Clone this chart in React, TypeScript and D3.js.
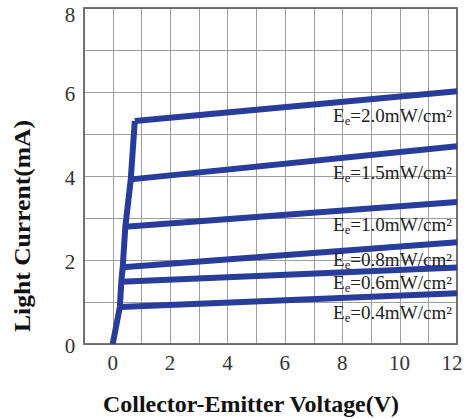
import React from "react";
import * as d3 from "d3";

const W = 464;
const H = 419;

// Irradiance series (mW/cm²)
const irradiance = ["2.0", "1.5", "1.0", "0.8", "0.6", "0.4"];
// Knee point (saturation edge) for each series: voltage, current
const kneeVoltage = [0.77, 0.63, 0.44, 0.35, 0.3, 0.25];
const kneeCurrent = [5.31, 3.92, 2.79, 1.83, 1.48, 0.88];
// Current at Vce = 12 V
const endVoltage = 12;
const endCurrent = [6.02, 4.71, 3.38, 2.42, 1.82, 1.21];
// Label baseline current for each series' annotation
const labelCurrent = [5.28, 3.93, 2.69, 1.86, 1.31, 0.6];

// Shared rising edge from origin through the knees
const riserVoltage = [0, 0.25, 0.3, 0.35, 0.44, 0.63, 0.77];
const riserCurrent = [0, 0.88, 1.48, 1.83, 2.79, 3.92, 5.31];

const xTicks = [0, 2, 4, 6, 8, 10, 12];
const yTicks = [0, 2, 4, 6, 8];
const xGrid = d3.range(-1, 13, 1);
const yGrid = d3.range(0, 9, 1);

const LINE = "#283c9c";

export default function App() {
  const x = d3.scaleLinear().domain([-1, 12]).range([84, 457]);
  const y = d3.scaleLinear().domain([0, 8]).range([344, 8]);
  const line = d3
    .line<[number, number]>()
    .x((d) => x(d[0]))
    .y((d) => y(d[1]));

  const riser: [number, number][] = riserVoltage.map((v, i) => [v, riserCurrent[i]]);

  return (
    <svg
      width={W}
      height={H}
      style={{ position: "absolute", left: 0, top: 0, background: "#fff" }}
      fontFamily="'Liberation Serif', 'Times New Roman', serif"
    >
      <rect x={0} y={0} width={W} height={H} fill="#fff" />
      <g shapeRendering="crispEdges">
        {xGrid.map((g) => (
          <line key={"xg" + g} x1={Math.round(x(g)) + 0.5} x2={Math.round(x(g)) + 0.5} y1={y(0)} y2={y(8)} stroke="#9e9e9e" strokeWidth={1} />
        ))}
        {yGrid.map((g) => (
          <line key={"yg" + g} x1={x(-1)} x2={x(12)} y1={Math.round(y(g)) + 0.5} y2={Math.round(y(g)) + 0.5} stroke="#9e9e9e" strokeWidth={1} />
        ))}
      </g>
      <rect
        x={x(-1)}
        y={y(8)}
        width={x(12) - x(-1)}
        height={y(0) - y(8)}
        fill="none"
        stroke="#666"
        strokeWidth={1.8}
      />

      <path d={line(riser) || ""} fill="none" stroke={LINE} strokeWidth={6} strokeLinejoin="round" />
      {irradiance.map((e, i) => (
        <path
          key={"s" + e}
          d={
            line([
              [kneeVoltage[i], kneeCurrent[i]],
              [endVoltage, endCurrent[i]],
            ]) || ""
          }
          fill="none"
          stroke={LINE}
          strokeWidth={6}
        />
      ))}

      {irradiance.map((e, i) => (
        <text
          key={"l" + e}
          x={x(12) - 5}
          y={y(labelCurrent[i])}
          textAnchor="end"
          fontSize={18}
          fill="#222"
          textLength={119}
          lengthAdjust="spacingAndGlyphs"
        >
          E
          <tspan fontSize={12} dy={3}>e</tspan>
          <tspan dy={-3}>={e}mW/cm²</tspan>
        </text>
      ))}

      {xTicks.map((t) => (
        <text key={"xt" + t} x={Math.min(x(t), 452)} y={370} textAnchor="middle" fontSize={21} fill="#333">
          {t}
        </text>
      ))}
      {yTicks.map((t) => (
        <text
          key={"yt" + t}
          x={70}
          y={Math.max(y(t) + 2, 15)}
          textAnchor="middle"
          dominantBaseline="central"
          fontSize={21}
          fill="#333"
        >
          {t}
        </text>
      ))}

      <text
        x={251}
        y={412}
        textAnchor="middle"
        fontSize={24}
        fontWeight="bold"
        fill="#111"
        textLength={296}
        lengthAdjust="spacingAndGlyphs"
      >
        Collector-Emitter Voltage(V)
      </text>
      <text
        transform={`translate(30, 226) rotate(-90)`}
        textAnchor="middle"
        fontSize={24}
        fontWeight="bold"
        fill="#111"
        textLength={212}
        lengthAdjust="spacingAndGlyphs"
      >
        Light Current(mA)
      </text>
    </svg>
  );
}
